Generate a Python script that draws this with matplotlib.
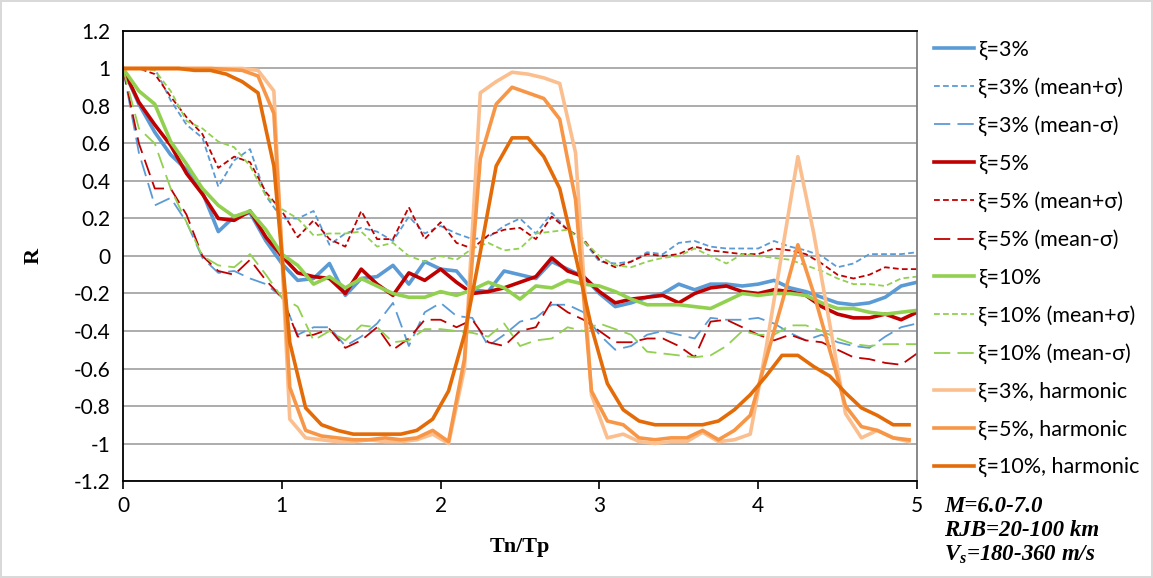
import numpy as np
import matplotlib
matplotlib.use("Agg")
import matplotlib.pyplot as plt

plt.rcParams['font.family'] = ['Lato', 'DejaVu Sans']
plt.rcParams['mathtext.fontset'] = 'custom'
plt.rcParams['mathtext.it'] = 'Liberation Serif:bold:italic'
plt.rcParams['mathtext.rm'] = 'Liberation Serif:bold:italic'

# Tn/Tp grid of the record-based curves
x = np.round(np.arange(0, 5.01, 0.1), 2)
# Tn/Tp grid of the harmonic curves
hx = np.concatenate([[0.0], np.round(np.arange(0.05, 5.0, 0.1), 2)])

b3 = [1.0, 0.81, 0.66, 0.54, 0.46, 0.34, 0.13, 0.21, 0.23, 0.08,
      -0.04, -0.13, -0.12, -0.04, -0.21, -0.12, -0.11, -0.05, -0.15, -0.03,
      -0.07, -0.08, -0.18, -0.19, -0.08, -0.10, -0.12, -0.03, -0.07, -0.11,
      -0.20, -0.27, -0.25, -0.22, -0.20, -0.15, -0.18, -0.15, -0.15, -0.16,
      -0.15, -0.13, -0.17, -0.19, -0.22, -0.25, -0.26, -0.25, -0.22, -0.16, -0.14]
b3_plus = [1.0, 1.0, 1.0, 0.83, 0.70, 0.63, 0.37, 0.51, 0.57, 0.32,
           0.20, 0.20, 0.24, 0.06, 0.12, 0.15, 0.13, 0.08, 0.21, 0.12,
           0.16, 0.12, 0.09, 0.10, 0.16, 0.20, 0.12, 0.23, 0.14, 0.08,
           -0.03, -0.04, -0.03, 0.02, 0.01, 0.07, 0.08, 0.05, 0.04, 0.04,
           0.04, 0.08, 0.05, 0.03, 0.0, -0.06, -0.04, 0.01, 0.01, 0.01, 0.02]
b3_minus = [1.0, 0.55, 0.27, 0.31, 0.18, -0.01, -0.09, -0.08, -0.12, -0.15,
            -0.22, -0.42, -0.38, -0.38, -0.48, -0.43, -0.36, -0.25, -0.48, -0.30,
            -0.25, -0.32, -0.33, -0.48, -0.42, -0.35, -0.33, -0.26, -0.26, -0.30,
            -0.42, -0.50, -0.48, -0.42, -0.40, -0.42, -0.44, -0.33, -0.34, -0.34,
            -0.33, -0.36, -0.41, -0.45, -0.42, -0.46, -0.48, -0.49, -0.43, -0.38, -0.36]

r5 = [1.0, 0.82, 0.70, 0.59, 0.44, 0.33, 0.20, 0.19, 0.24, 0.10,
      0.0, -0.09, -0.11, -0.12, -0.20, -0.07, -0.15, -0.21, -0.09, -0.13,
      -0.07, -0.14, -0.20, -0.19, -0.17, -0.14, -0.11, -0.01, -0.08, -0.11,
      -0.19, -0.25, -0.23, -0.22, -0.21, -0.25, -0.20, -0.17, -0.16, -0.19,
      -0.20, -0.18, -0.19, -0.21, -0.27, -0.31, -0.33, -0.33, -0.31, -0.34, -0.30]
r5_plus = [1.0, 1.0, 0.97, 0.85, 0.74, 0.65, 0.47, 0.53, 0.50, 0.34,
           0.24, 0.10, 0.19, 0.09, 0.05, 0.24, 0.09, 0.09, 0.26, 0.09,
           0.18, 0.07, 0.04, 0.11, 0.14, 0.15, 0.09, 0.21, 0.14, 0.09,
           -0.02, -0.06, -0.03, 0.01, 0.0, 0.01, 0.05, 0.03, 0.02, 0.01,
           0.01, 0.04, 0.03, 0.01, -0.04, -0.10, -0.12, -0.10, -0.06, -0.07, -0.07]
r5_minus = [1.0, 0.60, 0.36, 0.36, 0.22, 0.0, -0.08, -0.10, -0.02, -0.13,
            -0.22, -0.43, -0.42, -0.39, -0.49, -0.45, -0.38, -0.50, -0.44, -0.34,
            -0.34, -0.38, -0.34, -0.46, -0.48, -0.40, -0.38, -0.24, -0.30, -0.34,
            -0.40, -0.46, -0.46, -0.44, -0.44, -0.48, -0.54, -0.35, -0.34, -0.38,
            -0.42, -0.45, -0.42, -0.45, -0.46, -0.50, -0.54, -0.55, -0.57, -0.58, -0.52]

g10 = [1.0, 0.88, 0.81, 0.61, 0.49, 0.36, 0.27, 0.21, 0.24, 0.14,
       0.01, -0.05, -0.15, -0.11, -0.17, -0.12, -0.16, -0.20, -0.22, -0.22,
       -0.19, -0.21, -0.18, -0.14, -0.17, -0.23, -0.16, -0.17, -0.13, -0.15,
       -0.16, -0.19, -0.23, -0.26, -0.26, -0.26, -0.27, -0.28, -0.24, -0.20,
       -0.21, -0.20, -0.20, -0.21, -0.25, -0.28, -0.28, -0.30, -0.31, -0.30, -0.29]
g10_plus = [1.0, 1.0, 0.99, 0.88, 0.72, 0.68, 0.61, 0.58, 0.48, 0.32,
            0.25, 0.20, 0.11, 0.12, 0.12, 0.13, 0.05, 0.07, 0.0, -0.03,
            0.0, -0.02, 0.04, 0.07, 0.03, 0.04, 0.12, 0.13, 0.14, 0.08,
            0.0, -0.05, -0.06, -0.03, -0.01, 0.0, 0.04, 0.0, -0.04, 0.01,
            0.0, -0.01, -0.02, -0.05, -0.08, -0.12, -0.15, -0.15, -0.16, -0.12, -0.11]
g10_minus = [1.0, 0.68, 0.60, 0.36, 0.18, 0.0, -0.05, -0.06, 0.01, -0.10,
             -0.22, -0.27, -0.45, -0.40, -0.45, -0.37, -0.38, -0.46, -0.45, -0.39,
             -0.39, -0.40, -0.41, -0.43, -0.36, -0.48, -0.45, -0.44, -0.38, -0.40,
             -0.36, -0.39, -0.42, -0.51, -0.52, -0.53, -0.54, -0.53, -0.48, -0.40,
             -0.42, -0.42, -0.37, -0.37, -0.40, -0.44, -0.47, -0.48, -0.47, -0.47, -0.47]

h3 = [1.0, 1.0, 1.0, 1.0, 1.0, 1.0, 1.0, 1.0, 1.0, 0.99, 0.88,
      -0.87, -0.97, -0.98, -0.99, -0.99, -0.98, -0.99, -0.99, -0.98, -0.95,
      -1.0, -0.60, 0.87, 0.93, 0.98, 0.97, 0.95, 0.92, 0.55, -0.74,
      -0.97, -0.95, -0.99, -1.0, -0.99, -0.99, -0.94, -0.99, -0.98, -0.95,
      -0.49, 0.02, 0.53, 0.12, -0.36, -0.84, -0.97, -0.93, -0.97, -0.99]
h5 = [1.0, 1.0, 1.0, 1.0, 1.0, 1.0, 1.0, 0.995, 0.99, 0.96, 0.76,
      -0.70, -0.93, -0.96, -0.97, -0.98, -0.98, -0.97, -0.98, -0.97, -0.93,
      -0.99, -0.55, 0.52, 0.81, 0.90, 0.87, 0.84, 0.73, 0.30, -0.72,
      -0.88, -0.90, -0.97, -0.98, -0.97, -0.97, -0.93, -0.98, -0.93, -0.85,
      -0.55, -0.25, 0.06, -0.20, -0.50, -0.80, -0.91, -0.93, -0.97, -0.98]
h10 = [1.0, 1.0, 1.0, 1.0, 1.0, 0.99, 0.99, 0.97, 0.93, 0.87, 0.48,
       -0.46, -0.81, -0.90, -0.93, -0.95, -0.95, -0.95, -0.95, -0.93, -0.87,
       -0.72, -0.42, 0.02, 0.48, 0.63, 0.63, 0.53, 0.36, 0.0, -0.38,
       -0.68, -0.82, -0.88, -0.90, -0.90, -0.90, -0.90, -0.88, -0.82, -0.74,
       -0.64, -0.53, -0.53, -0.59, -0.64, -0.73, -0.81, -0.85, -0.90, -0.90]

blue, red, green = '#5B9BD5', '#C00000', '#92D050'
short_dash = (0, (3.2, 1.8))
long_dash = (0, (9, 4))

series = [
    (x, b3, blue, '-', 2.6, 'ξ=3%'),
    (x, b3_plus, blue, short_dash, 1.3, 'ξ=3% (mean+σ)'),
    (x, b3_minus, blue, long_dash, 1.3, 'ξ=3% (mean-σ)'),
    (x, r5, red, '-', 2.6, 'ξ=5%'),
    (x, r5_plus, red, short_dash, 1.3, 'ξ=5% (mean+σ)'),
    (x, r5_minus, red, long_dash, 1.3, 'ξ=5% (mean-σ)'),
    (x, g10, green, '-', 2.6, 'ξ=10%'),
    (x, g10_plus, green, short_dash, 1.3, 'ξ=10% (mean+σ)'),
    (x, g10_minus, green, long_dash, 1.3, 'ξ=10% (mean-σ)'),
    (hx, h3, '#FBBF8F', '-', 2.6, 'ξ=3%, harmonic'),
    (hx, h5, '#F79646', '-', 2.6, 'ξ=5%, harmonic'),
    (hx, h10, '#E36C09', '-', 2.6, 'ξ=10%, harmonic'),
]

fig = plt.figure(figsize=(11.53, 5.78), dpi=100)
fig.patch.set_edgecolor('#D9D9D9')
fig.patch.set_linewidth(1.5)
ax = fig.add_axes([0.1067, 0.1678, 0.6886, 0.7786])

handles = []
for xs, ys, c, ls, lw, lab in series:
    ln, = ax.plot(xs, ys, color=c, linestyle=ls, linewidth=lw, label=lab,
                  solid_joinstyle='round')
    handles.append(ln)

ax.set_xlim(0, 5)
ax.set_ylim(-1.2, 1.2)
ax.set_xticks(range(6))
yt = np.round(np.arange(-1.2, 1.21, 0.2), 1) + 0.0
ax.set_yticks(yt)
ax.set_yticklabels(['0' if abs(v) < 1e-9 else f'{v:g}' for v in yt])
ax.tick_params(axis='y', length=0, pad=9, labelsize=15)
ax.tick_params(axis='x', direction='out', length=6, width=1.2, pad=5, labelsize=15)
ax.grid(axis='y', color='#A6A6A6', linewidth=1.3)
ax.set_axisbelow(True)
for s in ['left', 'bottom', 'top']:
    ax.spines[s].set_linewidth(1.3)
    ax.spines[s].set_color('black')
ax.spines['right'].set_color('#7F7F7F')
ax.spines['right'].set_linewidth(1.3)

ax.set_ylabel('R', fontsize=16, fontweight='bold', family='Liberation Serif',
              labelpad=22, rotation=90)
ax.set_xlabel('Tn/Tp', fontsize=16, fontweight='bold', family='Liberation Serif',
              labelpad=15)

fig.legend(handles=handles, loc='upper left', bbox_to_anchor=(0.81, 0.932),
           frameon=False, fontsize=15.5, handlelength=1.85, handletextpad=0.2,
           labelspacing=0.81, borderpad=0, borderaxespad=0)

note = dict(fontsize=16.5, fontweight='bold', fontstyle='italic',
            family='Liberation Serif', ha='left', va='baseline')
fig.text(0.819, 0.114, 'M=6.0-7.0', **note)
fig.text(0.819, 0.073, 'RJB=20-100 km', **note)
fig.text(0.819, 0.030, r'$V_s$=180-360 m/s', **note)

fig.savefig('out.png', dpi=100)
